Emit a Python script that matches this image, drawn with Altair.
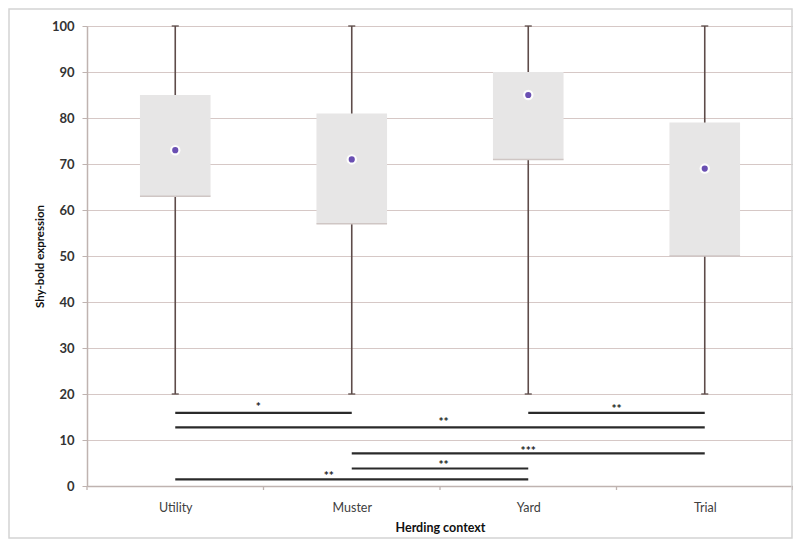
import altair as alt
import pandas as pd

categories = ["Utility", "Muster", "Yard", "Trial"]
whisker_low = [20, 20, 20, 20]
whisker_high = [100, 100, 100, 100]
box_low = [63, 57, 71, 50]
box_high = [85, 81, 90, 79]
means = [73, 71, 85, 69]

sig_labels = ["*", "**", "**", "***", "**", "**"]
sig_from = ["Utility", "Utility", "Yard", "Muster", "Muster", "Utility"]
sig_to = ["Muster", "Trial", "Trial", "Trial", "Yard", "Yard"]
sig_line_y = [15.9, 12.75, 15.9, 7.1, 3.8, 1.45]
sig_label_x = [0.97, 2.02, 3.0, 2.5, 2.02, 1.37]
sig_label_y = [17.8, 14.6, 17.4, 8.3, 5.2, 2.8]

W, H = 706, 460
PAD_L, PAD_T, PAD_R, PAD_B = 79, 18, 0, 54
FONT = "Lato"
center = {c: i + 0.5 for i, c in enumerate(categories)}
HALF_BOX = 0.2

boxes = pd.DataFrame({
    "cat": categories,
    "c": [center[c] for c in categories],
    "lo": [center[c] - HALF_BOX for c in categories],
    "hi": [center[c] + HALF_BOX for c in categories],
    "cl": [center[c] - 0.02 for c in categories],
    "cr": [center[c] + 0.02 for c in categories],
    "wlo": whisker_low, "whi": whisker_high,
    "blo": box_low, "bhi": box_high, "mean": means,
})
sig = pd.DataFrame({
    "label": sig_labels,
    "x1": [center[c] for c in sig_from],
    "x2": [center[c] for c in sig_to],
    "y": sig_line_y,
    "lx": sig_label_x,
    "ly": sig_label_y,
})
bounds = pd.DataFrame({"b": [0, 1, 2, 3, 4]})
frame = pd.DataFrame({"k": [0]})

xs = alt.Scale(domain=[0, 4], nice=False, zero=False)
ys = alt.Scale(domain=[0, 100], nice=False)

label_list = "[" + ",".join("'" + c + "'" for c in categories) + "]"
x_axis = alt.Axis(values=[0.5, 1.5, 2.5, 3.5], labelExpr=label_list + "[floor(datum.value)]",
                  ticks=False, grid=False, domainColor="#bfb3b0", domainWidth=1.5,
                  labelFont=FONT, labelFontSize=12.5, labelColor="#404040", labelPadding=15,
                  title="Herding context", titleFont=FONT, titleFontSize=12.5,
                  titleFontWeight="bold", titleColor="#111111", titlePadding=8)
y_axis = alt.Axis(values=list(range(0, 101, 10)), grid=True, gridColor="#d6c8c6", gridWidth=1.2,
                  domainColor="#bfb3b0", domainWidth=1.5, tickColor="#bfb3b0", tickSize=5,
                  labelFont=FONT, labelFontSize=13, labelFontWeight="bold", labelColor="#333333",
                  labelPadding=8,
                  title="Shy-bold expression", titleFont=FONT, titleFontSize=11.5,
                  titleFontWeight="bold", titleColor="#111111", titlePadding=6)

base = alt.Chart(boxes)

border = alt.Chart(frame).mark_rect(filled=False, stroke="#d4d4d4", strokeWidth=1.5).encode(
    x=alt.value(-PAD_L + 1), x2=alt.value(W + PAD_R - 1),
    y=alt.value(-PAD_T + 1), y2=alt.value(H + PAD_B - 2))

whisk = base.mark_rule(color="#5e4c4a", strokeWidth=1.6).encode(
    x=alt.X("c:Q", scale=xs, axis=x_axis),
    y=alt.Y("wlo:Q", scale=ys, axis=y_axis),
    y2="whi:Q")
cap_lo = base.mark_rule(color="#5e4c4a", strokeWidth=1.3).encode(
    x=alt.X("cl:Q", scale=xs), x2="cr:Q", y=alt.Y("wlo:Q", scale=ys))
cap_hi = base.mark_rule(color="#5e4c4a", strokeWidth=1.3).encode(
    x=alt.X("cl:Q", scale=xs), x2="cr:Q", y=alt.Y("whi:Q", scale=ys))
box = base.mark_rect(color="#e7e6e6").encode(
    x=alt.X("lo:Q", scale=xs), x2="hi:Q",
    y=alt.Y("blo:Q", scale=ys), y2="bhi:Q")
box_edge = base.mark_rule(color="#cfc6c4", strokeWidth=1.5).encode(
    x=alt.X("lo:Q", scale=xs), x2="hi:Q", y=alt.Y("blo:Q", scale=ys))
halo = base.mark_point(filled=True, shape="circle", color="#ffffff", size=110, opacity=0.9).encode(
    x=alt.X("c:Q", scale=xs), y=alt.Y("mean:Q", scale=ys))
mean_pt = base.mark_point(filled=True, shape="circle", color="#6a4fb2", size=38, opacity=1).encode(
    x=alt.X("c:Q", scale=xs), y=alt.Y("mean:Q", scale=ys))

sig_base = alt.Chart(sig)
sig_lines = sig_base.mark_rule(color="#2a2a2a", strokeWidth=2.2).encode(
    x=alt.X("x1:Q", scale=xs), x2="x2:Q", y=alt.Y("y:Q", scale=ys))
sig_text = sig_base.mark_text(font=FONT, fontSize=12, fontWeight="bold", color="#222222",
                              baseline="middle", dy=3).encode(
    x=alt.X("lx:Q", scale=xs), y=alt.Y("ly:Q", scale=ys), text="label:N")

ticks = alt.Chart(bounds).mark_rule(color="#bfb3b0", strokeWidth=1.3).encode(
    x=alt.X("b:Q", scale=xs), y=alt.value(H), y2=alt.value(H + 4))

chart = alt.layer(border, whisk, cap_lo, cap_hi, box, box_edge, halo, mean_pt,
                  sig_lines, sig_text, ticks).properties(
    width=W, height=H,
    padding={"left": PAD_L, "top": PAD_T, "right": PAD_R, "bottom": PAD_B},
    autosize=alt.AutoSizeParams(type="none"),
).configure_view(stroke=None).configure(background="#ffffff")

chart.save("out.html", embed_options={"renderer": "svg", "actions": False})
